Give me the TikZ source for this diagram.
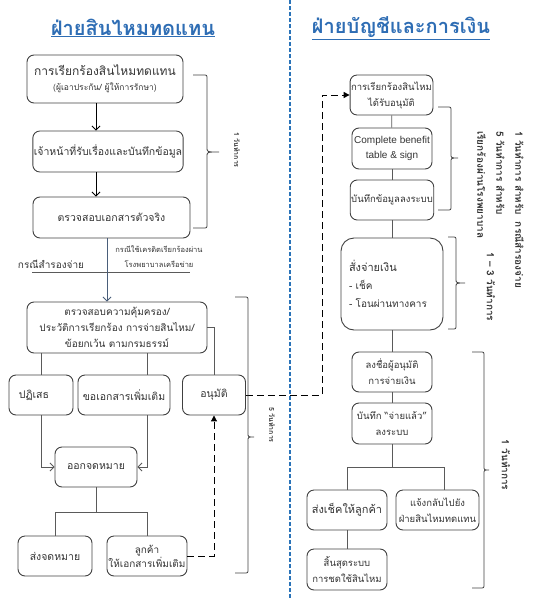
\documentclass[tikz,border=0pt]{standalone}
\usepackage{fontspec}
\setmainfont{Loma}[Script=Thai]
\newfontfamily\latinf{Liberation Sans}
\usetikzlibrary{arrows.meta}
\definecolor{boxc}{HTML}{404040}
\definecolor{txt}{HTML}{333333}
\definecolor{lnc}{HTML}{5A5A5A}
\definecolor{titleblue}{HTML}{2E6DB4}
\definecolor{divblue}{HTML}{2A73B8}
\definecolor{arrblue}{HTML}{4A5E7A}
\newcommand\mybrace[6]{% xleft, x, ytop, ymid, ybot, tip
  \draw[brc] (#1,#3) -- ({#2-4},#3) .. controls (#2,#3) .. ({#2},{#3+4}) -- ({#2},{#4-4}) .. controls (#2,#4) .. ({#2+#6},#4)
     ({#2+#6},#4) .. controls (#2,#4) .. ({#2},{#4+4}) -- ({#2},{#5-4}) .. controls (#2,#5) .. ({#2-4},#5) -- (#1,#5);}
\begin{document}
\begin{tikzpicture}[x=1pt,y=-1pt,
 box/.style={draw=boxc, line width=0.9pt, rounded corners=7pt, align=center, text=txt, inner sep=1pt, font=\fontsize{10.5}{15}\selectfont},
 conn/.style={draw=lnc, line width=0.8pt},
 arr/.style={draw=black, line width=0.8pt, -{Straight Barb[length=4pt,width=8pt]}},
 barr/.style={draw=arrblue, line width=0.8pt, -{Straight Barb[length=4pt,width=8pt]}},
 dsh/.style={draw=black, line width=1pt, dash pattern=on 7pt off 4pt},
 dsharr/.style={dsh, -{Triangle[length=6pt,width=6pt]}},
 brc/.style={draw=boxc, line width=0.8pt},
 vlab/.style={rotate=-90, font=\bfseries\fontsize{7}{9}\selectfont, text=txt},
 vlabb/.style={rotate=-90, font=\bfseries\fontsize{10}{19}\selectfont, text=txt, align=left, inner sep=0pt},
 title/.style={font=\bfseries\fontsize{20}{24}\selectfont, text=titleblue},
 plain/.style={text=txt, align=center, inner sep=0pt}]
\useasboundingbox (0,0) rectangle (546,600);
% divider
\draw[draw=divblue, line width=2pt, dash pattern=on 4pt off 2pt] (290,0) -- (290,600);
% titles
\node[title] (tl) at (133,28) {\underline{ฝ่ายสินไหมทดแทน}};
\node[title] (tr) at (401,28) {\underline{ฝ่ายบัญชีและการเงิน}};
% left boxes
\node[box, minimum width=156pt, minimum height=48pt, font=\fontsize{12}{15}\selectfont] (b1) at (105,79) {การเรียกร้องสินไหมทดแทน\\[0pt]{\fontsize{8.5}{10}\selectfont (ผู้เอาประกัน/ ผู้ให้การรักษา)}};
\node[box, minimum width=150pt, minimum height=41pt] (b2) at (108,151.5) {เจ้าหน้าที่รับเรื่องและบันทึกข้อมูล};
\node[box, minimum width=157pt, minimum height=41pt] (b3) at (111.5,217.5) {ตรวจสอบเอกสารตัวจริง};
\node[box, minimum width=180pt, minimum height=51pt, font=\fontsize{10}{16}\selectfont] (b4) at (117,327.5) {ตรวจสอบความคุ้มครอง/\\ประวัติการเรียกร้อง การจ่ายสินไหม/\\ข้อยกเว้น ตามกรมธรรม์};
\node[box, minimum width=64pt, minimum height=40pt] (pf) at (41,395) {ปฏิเสธ\hspace{14pt}};
\node[box, minimum width=92pt, minimum height=40pt] (rq) at (124,395) {ขอเอกสารเพิ่มเติม};
\node[box, minimum width=63pt, minimum height=40pt] (ap) at (214,395) {อนุมัติ};
\node[box, minimum width=82pt, minimum height=40pt] (ot) at (96,467) {ออกจดหมาย};
\node[box, minimum width=74pt, minimum height=40pt] (sd) at (55,556) {ส่งจดหมาย};
\node[box, minimum width=80pt, minimum height=40pt, font=\fontsize{10}{14}\selectfont] (cu) at (147,556) {ลูกค้า\\ให้เอกสารเพิ่มเติม};
% left texts
\node[plain, font=\fontsize{10}{12}\selectfont] (cs) at (51,264) {กรณีสำรองจ่าย};
\node[plain, font=\fontsize{7.5}{15}\selectfont] (cc) at (159,257) {กรณีใช้เครดิตเรียกร้องผ่าน\\โรงพยาบาลเครือข่าย};
\coordinate (h1) at (32,272);
\coordinate (h2) at (190,272);
\draw[conn] (h1) -- (h2);
% left connectors
\coordinate (x96) at (96,0);
\coordinate (x107) at (107,0);
\coordinate (x147) at (147,0);
\coordinate (y512) at (0,512);
\draw[arr] (x96 |- b1.south) -- (x96 |- b2.north);
\draw[arr] (x96 |- b2.south) -- (x96 |- b3.north);
\draw[barr] (x107 |- b3.south) -- (x107 |- b4.north);
\draw[conn] (pf.north |- b4.south) -- (pf.north);
\draw[conn] (x147 |- b4.south) -- (x147 |- rq.north);
\draw[conn] (b4.east) -| (ap.north);
\draw[arr, draw=lnc] (pf.south) |- (ot.west);
\draw[arr, draw=lnc] (x147 |- rq.south) |- (ot.east);
\draw[conn] (ot.south) -- (ot.south |- y512);
\draw[conn] (sd.north) -- (sd.north |- y512) -- (cu.north |- y512) -- (cu.north);
\draw[dsharr] (cu.east) -| (ap.south);
% right boxes
\node[box, minimum width=81pt, minimum height=40pt, font=\fontsize{9.5}{16}\selectfont] (r1) at (391.5,95) {การเรียกร้องสินไหม\\ได้รับอนุมัติ};
\node[box, minimum width=80pt, minimum height=41pt, font=\latinf\fontsize{10}{15}\selectfont] (r2) at (392,148.5) {Complete benefit\\table \& sign};
\node[box, minimum width=80pt, minimum height=40pt, font=\fontsize{9.5}{14}\selectfont] (r3) at (392,200) {บันทึกข้อมูลลงระบบ};
\node[box, minimum width=102pt, minimum height=92pt, rounded corners=13pt, align=left, text width=86pt, inner sep=8pt, font=\fontsize{10}{18}\selectfont] (r4) at (392,284) {{\fontsize{11}{18}\selectfont สั่งจ่ายเงิน}\\- เช็ค\\- โอนผ่านทางคาร};
\node[box, minimum width=80pt, minimum height=40pt, font=\fontsize{9.5}{16}\selectfont] (r5) at (392,372) {ลงชื่อผู้อนุมัติ\\การจ่ายเงิน};
\node[box, minimum width=80pt, minimum height=41pt, font=\fontsize{9.5}{16}\selectfont] (r6) at (392,423.5) {บันทึก “จ่ายแล้ว”\\ลงระบบ};
\node[box, minimum width=80pt, minimum height=40pt, font=\fontsize{11}{14}\selectfont] (r7) at (347,510) {ส่งเช็คให้ลูกค้า};
\node[box, minimum width=83pt, minimum height=40pt, font=\fontsize{9.5}{16}\selectfont] (r8) at (437.5,510) {แจ้งกลับไปยัง\\ฝ่ายสินไหมทดแทน};
\node[box, minimum width=80pt, minimum height=41pt, font=\fontsize{9.5}{16}\selectfont] (r9) at (347,569.5) {สิ้นสุดระบบ\\การชดใช้สินไหม};
% right connectors
\draw[conn] (r1) -- (r2);
\draw[conn] (r2) -- (r3);
\draw[conn] (r3) -- (r4);
\draw[conn] (r4) -- (r5);
\draw[conn] (r5) -- (r6);
\coordinate (y467) at (0,467);
\coordinate (x444) at (444,0);
\draw[conn] (r6.south) -- (r6.south |- y467);
\draw[conn] (r7.north) -- (r7.north |- y467) -- (x444 |- y467) -- (x444 |- r8.north);
\draw[conn] (r7) -- (r9);
% dashed cross connector
\coordinate (x322) at (322,0);
\draw[dsharr] (ap.east) -- (x322 |- ap.east) -- (x322 |- r1.west) -- (r1.west);
% braces
\mybrace{193}{207}{75}{152}{228}{12}
\mybrace{235}{248}{297}{437}{573}{6}
\mybrace{438}{451}{107}{158}{210}{7}
\mybrace{448}{456}{237}{283}{329}{9}
\mybrace{472}{484}{352}{470}{588}{5}
% labels
\node[vlab] (l1) at (237,150) {1 วันทำการ};
\node[vlab] (l2) at (272,425) {5 วันทำการ};
\node[vlabb, anchor=north west] (l3) at (524,131) {1 วันทำการ สำหรับ\ \ กรณีสำรองจ่าย\\5 วันทำการ สำหรับ\\เรียกร้องผ่านโรงพยาบาล};
\node[vlabb] (l4) at (491,287) {1 – 3 วันทำการ};
\node[vlabb] (l5) at (506,465) {1 วันทำการ};
\end{tikzpicture}
\end{document}
